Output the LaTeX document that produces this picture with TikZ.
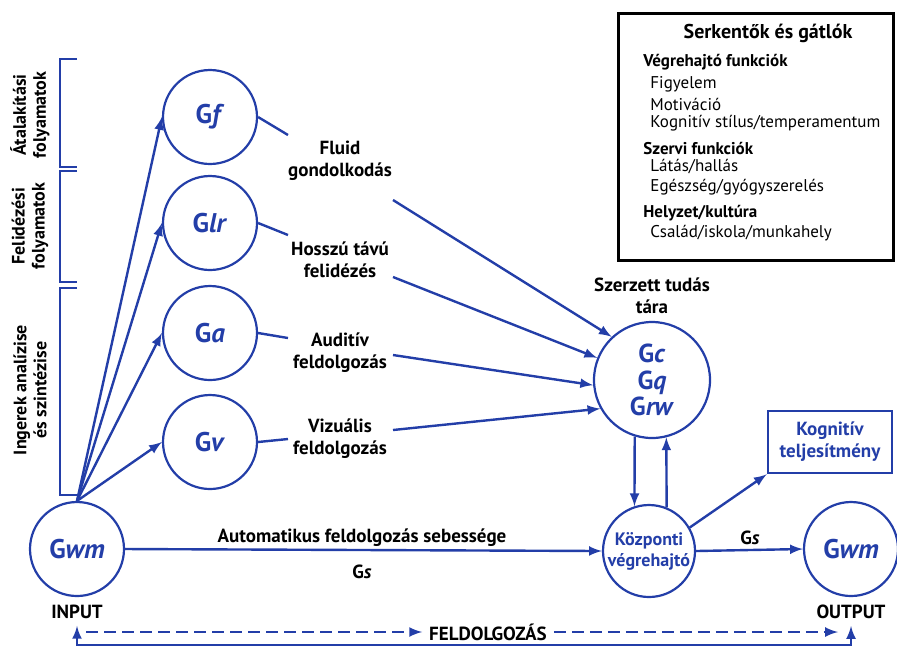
\documentclass[tikz,border=0pt]{standalone}
\usepackage{fontspec}
\setmainfont{PT Sans}
\usepackage{tikz}
\definecolor{kek}{RGB}{35,62,168}

\begin{document}
\begin{tikzpicture}[x=0.5pt, y=-0.5pt,
  kepesseg/.style={circle, draw=kek, line width=1.1pt, minimum size=47pt, inner sep=0pt, text=kek, align=center, font=\bfseries\fontsize{13.5}{13.3}\selectfont},
  cimke/.style={align=center, font=\bfseries\fontsize{9.5}{11}\selectfont},
  doboz/.style={anchor=west, inner sep=0pt, font=\fontsize{8.5}{10}\selectfont},
  nyil/.style={-latex, line width=1.2pt, draw=kek},
  vonal/.style={line width=1.2pt, draw=kek}]
\useasboundingbox (0,0) rectangle (897,650);

% kepessegek
\node[kepesseg] (gf) at (210,117) {G\textit{f}};
\node[kepesseg] (glr) at (210,223) {G\textit{lr}};
\node[kepesseg] (ga) at (210,333) {G\textit{a}};
\node[kepesseg] (gv) at (210,442) {G\textit{v}};
\node[kepesseg] (gwmbe) at (77,549) {G\textit{wm}};
\node[kepesseg] (gwmki) at (851,549) {G\textit{wm}};
\node[kepesseg, minimum size=58pt, font=\bfseries\fontsize{13}{13.3}\selectfont] (gc) at (652,380) {G\textit{c}\\G\textit{q}\\G\textit{rw}};
\node[kepesseg, minimum size=46pt, font=\bfseries\fontsize{9}{10.5}\selectfont] (kv) at (649,551) {Központi\\végrehajtó};
\node[draw=kek, line width=1.3pt, text=kek, minimum width=62pt, minimum height=31pt, cimke] (kt) at (830,442) {Kognitív\\teljesítmény};

% feliratok
\node[cimke] (fluid) at (340,161) {Fluid\\gondolkodás};
\node[cimke] (hosszu) at (340,260) {Hosszú távú\\felidézés};
\node[cimke] (audit) at (340,353) {Auditív\\feldolgozás};
\node[cimke] (vizu) at (340,439) {Vizuális\\feldolgozás};
\node[cimke] (tudas) at (652,296) {Szerzett tudás\\tára};
\node[cimke] (auto) at (362,538) {Automatikus feldolgozás sebessége};
\node[cimke] (gs) at (362,572) {G\textit{s}};
\node[cimke] (gs2) at (750,538) {G\textit{s}};
\node[cimke] (input) at (77,612) {INPUT};
\node[cimke] (output) at (851,612) {OUTPUT};
\node[cimke] (feld) at (488,632) {FELDOLGOZÁS};

% zarojelek
\draw[vonal] (77,59) -- (60,59) -- (60,167) -- (77,167);
\draw[vonal] (77,171) -- (60,171) -- (60,282) -- (77,282);
\draw[vonal] (77,288) -- (60,288) -- (60,495) -- (77,495);
\node[cimke, rotate=90, font=\bfseries\fontsize{9}{10}\selectfont] (atal) at (30,115) {Átalakítási\\folyamatok};
\node[cimke, rotate=90, font=\bfseries\fontsize{9}{10}\selectfont] (felid) at (30,226) {Felidézési\\folyamatok};
\node[cimke, rotate=90, font=\bfseries\fontsize{9}{10}\selectfont] (inger) at (30,390) {Ingerek analízise\\és szintézise};

% nyilak
\draw[nyil] (gwmbe.north) -- (gf.west);
\draw[nyil] (gwmbe.north) -- (glr.west);
\draw[nyil] (gwmbe.north) -- (ga.west);
\draw[nyil] (gwmbe.north) -- (gv.west);

\coordinate (f1) at (288,135);
\coordinate (f2) at (288,235);
\coordinate (f3) at (288,338);
\coordinate (f4) at (288,439);
\draw[vonal] (gf.east) -- (f1);
\draw[vonal] (glr.east) -- (f2);
\draw[vonal] (ga.east) -- (f3);
\draw[vonal] (gv.east) -- (f4);

\coordinate (k1) at (393,200);
\coordinate (k2) at (393,277);
\coordinate (k3) at (393,355);
\coordinate (k4) at (393,430);
\draw[nyil] (k1) -- (gc.133);
\draw[nyil] (k2) -- (gc.158);
\draw[nyil] (k3) -- (gc.185);
\draw[nyil] (k4) -- (gc.209);

\draw[nyil] (gc.253) -- (kv.108);
\draw[nyil] (kv.68) -- (gc.284);
\draw[nyil] (kv.30) -- (kt.south west);
\draw[nyil] (gwmbe.east) -- (kv.west);
\draw[nyil] (kv.east) -- (gwmki.west);

% alul
\coordinate (sz) at (86,632);
\coordinate (alja) at (465,645);
\draw[nyil, dash pattern=on 6pt off 3pt] (sz) -- (feld.west);
\draw[nyil, dash pattern=on 6pt off 3pt] (feld.east) -- (838,632);
\draw[vonal, latex-latex] (input.south) |- (alja) -| (output.south);

% serkentok es gatlok
\draw[line width=1.5pt] (618,13) rectangle (893,260);
\node[cimke, font=\bfseries\fontsize{10}{12}\selectfont] (cim) at (768,33) {Serkentők és gátlók};
\node[doboz, font=\bfseries\fontsize{8.5}{10}\selectfont] (vf) at (643,62) {Végrehajtó funkciók};
\node[doboz] (figy) at (650,84) {Figyelem};
\node[doboz] (mot) at (650,104) {Motiváció};
\node[doboz] (kog) at (650,123) {Kognitív stílus/temperamentum};
\node[doboz, font=\bfseries\fontsize{8.5}{10}\selectfont] (szf) at (643,148) {Szervi funkciók};
\node[doboz] (lat) at (650,167) {Látás/hallás};
\node[doboz] (egesz) at (650,187) {Egészség/gyógyszerelés};
\node[doboz, font=\bfseries\fontsize{8.5}{10}\selectfont] (hk) at (643,213) {Helyzet/kultúra};
\node[doboz] (csal) at (650,233) {Család/iskola/munkahely};
\end{tikzpicture}
\end{document}
